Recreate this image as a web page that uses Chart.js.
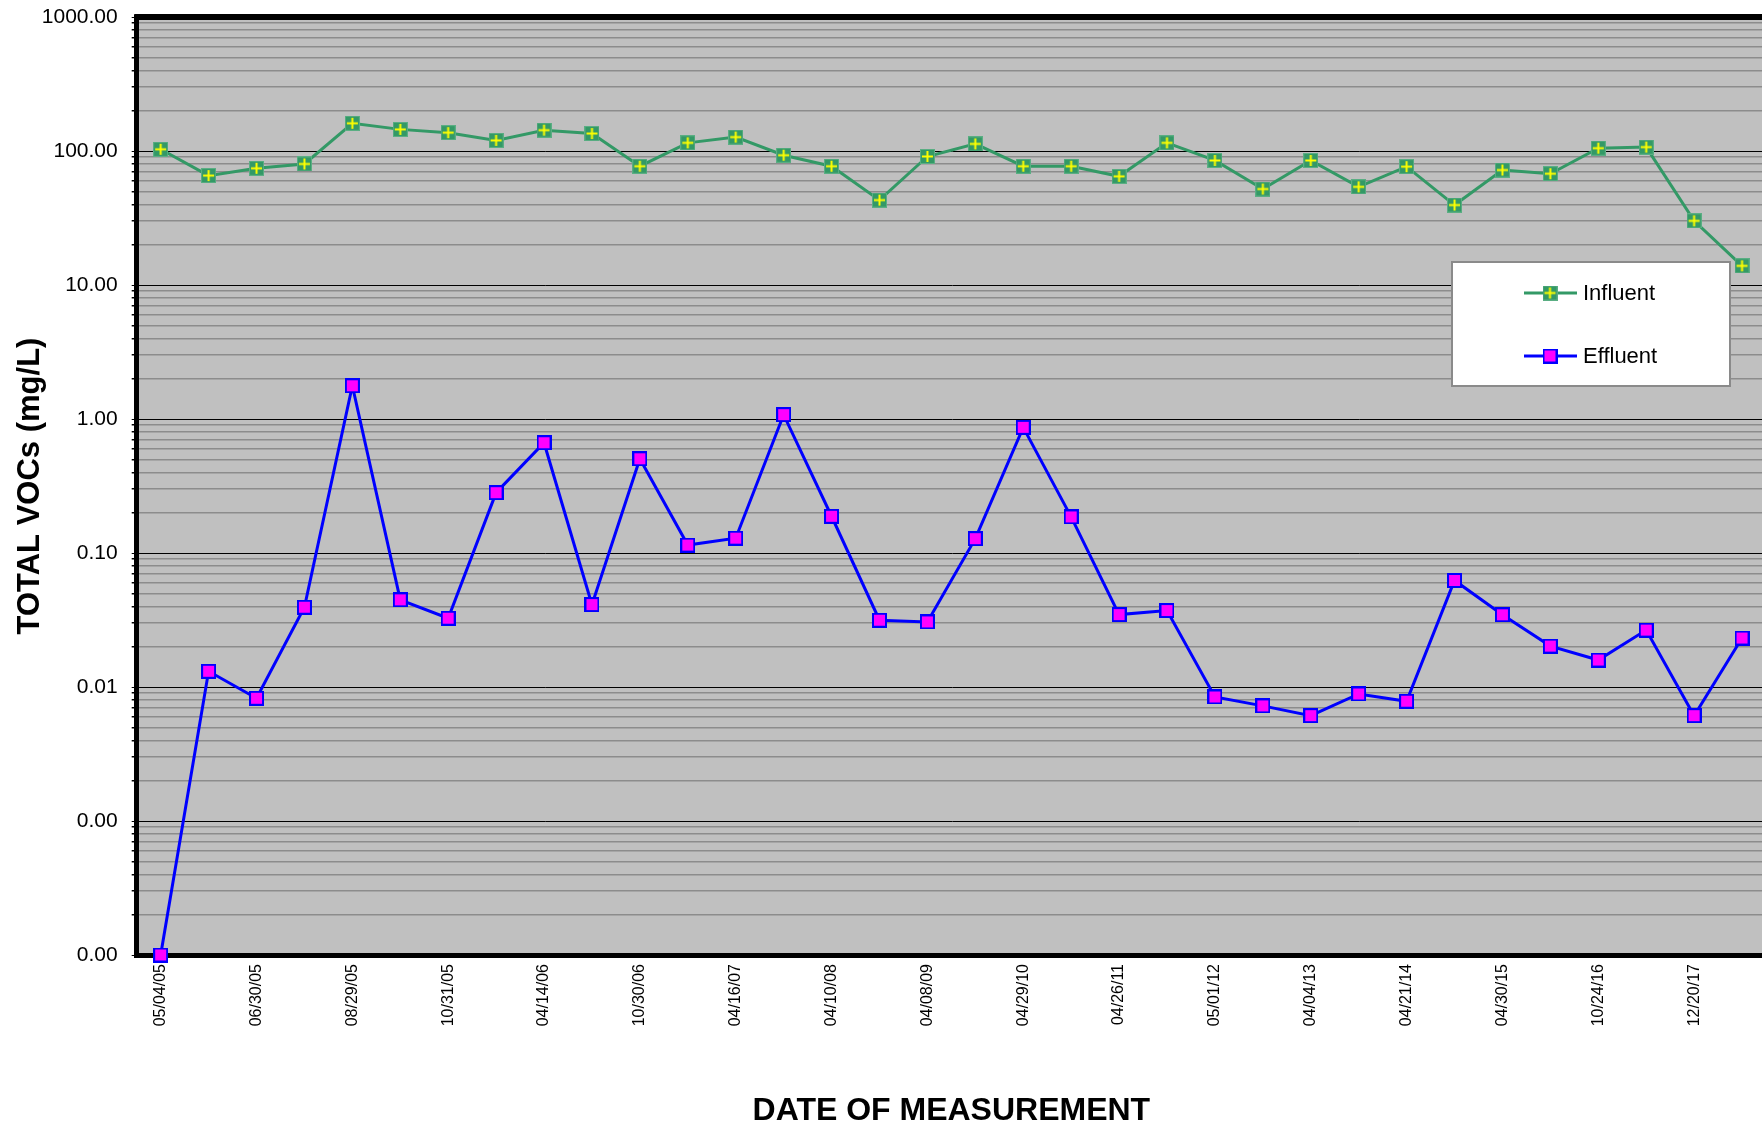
<!DOCTYPE html>
<html>
<head>
<meta charset="utf-8">
<title>Total VOCs</title>
<script src="https://cdn.jsdelivr.net/npm/chart.js@4.4.1/dist/chart.umd.min.js"></script>
<style>
  html, body { margin: 0; padding: 0; background: #fff; overflow: hidden; }
  #voc { display: block; }
</style>
</head>
<body>
<canvas id="voc" width="1772" height="1126"></canvas>
<script>
// sampling dates (every other one is labelled on the axis)
const dates = [
  '05/04/05', '', '06/30/05', '', '08/29/05', '', '10/31/05', '', '04/14/06', '',
  '10/30/06', '', '04/16/07', '', '04/10/08', '', '04/08/09', '', '04/29/10', '',
  '04/26/11', '', '05/01/12', '', '04/04/13', '', '04/21/14', '', '04/30/15', '',
  '10/24/16', '', '12/20/17', ''
];

// total VOCs, mg/L
const influent = [
  103, 65.5, 74.3, 80, 161, 145, 137, 120, 143, 135,
  77, 115, 127, 93, 77, 43, 91, 113, 77, 77,
  64.7, 115, 85, 52, 85, 54, 76.4, 39.5, 72.1, 67.7,
  105, 107, 30.1, 13.9
];
const effluent = [
  0.0001, 0.0131, 0.00824, 0.0394, 1.77, 0.0447, 0.0326, 0.282, 0.665, 0.0412,
  0.505, 0.1146, 0.129, 1.077, 0.188, 0.0315, 0.0306, 0.128, 0.866, 0.186,
  0.0347, 0.0372, 0.00843, 0.00723, 0.00611, 0.00887, 0.00783, 0.0624, 0.0346, 0.0202,
  0.0159, 0.0266, 0.00611, 0.0232
];

// labelled decades on the log axis, plus 2..9 minor lines in between
const decadeTicks = [0.0001, 0.001, 0.01, 0.1, 1, 10, 100, 1000];
const yTicks = [];
decadeTicks.forEach((d, i) => {
  yTicks.push(d);
  if (i < decadeTicks.length - 1) {
    const exp = Math.round(Math.log10(d));
    for (let s = 2; s <= 9; s++) yTicks.push(parseFloat(s + 'e' + exp));
  }
});
const isDecade = (tick) => tick && decadeTicks.includes(tick.value);

const FONT = "'Liberation Sans', Arial, sans-serif";
Chart.defaults.font.family = FONT;
Chart.defaults.color = '#000';

// marker images
function makeMark(draw) {
  const c = document.createElement('canvas');
  c.width = 15;
  c.height = 15;
  draw(c.getContext('2d'));
  return c;
}
const influentMark = makeMark((g) => {
  g.fillStyle = '#339966';
  g.fillRect(0, 0, 15, 15);
  g.strokeStyle = '#5aae83';
  g.lineWidth = 1;
  g.strokeRect(0.5, 0.5, 14, 14);
  g.strokeStyle = '#ffff00';
  g.lineWidth = 2;
  g.beginPath();
  g.moveTo(2, 7.5); g.lineTo(13, 7.5);
  g.moveTo(7.5, 2); g.lineTo(7.5, 13);
  g.stroke();
});
const effluentMark = makeMark((g) => {
  g.fillStyle = '#ff00ff';
  g.fillRect(1, 1, 13, 13);
  g.strokeStyle = '#0000ff';
  g.lineWidth = 2;
  g.strokeRect(1, 1, 13, 13);
});

const plotBackground = {
  id: 'plotBackground',
  beforeDraw(chart) {
    const { ctx, chartArea: a } = chart;
    ctx.save();
    ctx.fillStyle = '#c0c0c0';
    ctx.fillRect(a.left, a.top, a.right - a.left, a.bottom - a.top);
    ctx.restore();
  }
};

const frameTop = {
  id: 'frameTop',
  beforeDatasetsDraw(chart) {
    const { ctx, chartArea: a } = chart;
    ctx.save();
    ctx.strokeStyle = '#000';
    ctx.lineWidth = 6;
    ctx.beginPath();
    ctx.moveTo(a.left - 2.5, a.top);
    ctx.lineTo(a.right, a.top);
    ctx.lineTo(a.right, a.bottom);
    ctx.stroke();
    ctx.restore();
  }
};

const legendBox = {
  id: 'legendBox',
  afterDraw(chart) {
    const { ctx, chartArea: a } = chart;
    const x = a.right - 314, y = a.top + 245, w = 278, h = 124;
    ctx.save();
    ctx.fillStyle = '#fff';
    ctx.fillRect(x, y, w, h);
    ctx.strokeStyle = '#8a8a8a';
    ctx.lineWidth = 2;
    ctx.strokeRect(x, y, w, h);
    const marks = [influentMark, effluentMark];
    chart.data.datasets.forEach((ds, i) => {
      const ry = y + 31 + i * 63;
      ctx.strokeStyle = ds.borderColor;
      ctx.lineWidth = ds.borderWidth;
      ctx.beginPath();
      ctx.moveTo(x + 72, ry);
      ctx.lineTo(x + 125, ry);
      ctx.stroke();
      ctx.drawImage(marks[i], x + 98 - 7.5, ry - 7.5);
      ctx.fillStyle = '#000';
      ctx.font = '22px ' + FONT;
      ctx.textBaseline = 'middle';
      ctx.fillText(ds.label, x + 131, ry + 1);
    });
    ctx.restore();
  }
};

new Chart(document.getElementById('voc'), {
  type: 'line',
  data: {
    labels: dates,
    datasets: [
      {
        label: 'Influent',
        data: influent,
        borderColor: '#339966',
        borderWidth: 3,
        pointStyle: influentMark,
        pointRadius: 7,
        tension: 0,
        clip: false
      },
      {
        label: 'Effluent',
        data: effluent,
        borderColor: '#0000ff',
        borderWidth: 3,
        pointStyle: effluentMark,
        pointRadius: 7,
        tension: 0,
        clip: false
      }
    ]
  },
  options: {
    responsive: false,
    animation: false,
    layout: { autoPadding: false, padding: { top: 17, right: 6, left: 0, bottom: 0 } },
    plugins: {
      legend: { display: false },
      tooltip: { enabled: false }
    },
    scales: {
      x: {
        offset: true,
        grid: { display: false, drawTicks: false, tickLength: 0 },
        border: { color: '#000', width: 5 },
        ticks: {
          autoSkip: false,
          minRotation: 90,
          maxRotation: 90,
          padding: 9,
          color: '#000',
          font: { size: 16 }
        },
        title: {
          display: true,
          text: 'DATE OF MEASUREMENT',
          color: '#000',
          padding: 0,
          font: { size: 32, weight: 'bold', lineHeight: 0.95 }
        },
        afterFit: (s) => {
          s.height = 171;
          s.paddingLeft = 0;
          s.paddingRight = 0;
        }
      },
      y: {
        type: 'logarithmic',
        min: 0.0001,
        max: 1000,
        afterBuildTicks: (s) => {
          s.ticks = yTicks.map((v) => ({ value: v, major: decadeTicks.includes(v) }));
        },
        grid: {
          color: (c) => isDecade(c.tick) ? '#000' : '#8c8c8c',
          lineWidth: (c) => isDecade(c.tick) ? 1 : 1.5,
          tickColor: '#000',
          tickLength: 5
        },
        border: { color: '#000', width: 5 },
        ticks: {
          autoSkip: false,
          padding: 14,
          color: '#000',
          font: { size: 21 },
          callback: (v) => decadeTicks.includes(v) ? v.toFixed(2) : ''
        },
        title: {
          display: true,
          text: 'TOTAL VOCs (mg/L)',
          color: '#000',
          padding: { top: 15, bottom: 0 },
          font: { size: 31, weight: 'bold', lineHeight: 1 }
        },
        afterFit: (s) => {
          s.width = 136.7;
          s.paddingTop = 0;
          s.paddingBottom = 0;
        }
      }
    }
  },
  plugins: [plotBackground, frameTop, legendBox]
});
</script>
</body>
</html>
